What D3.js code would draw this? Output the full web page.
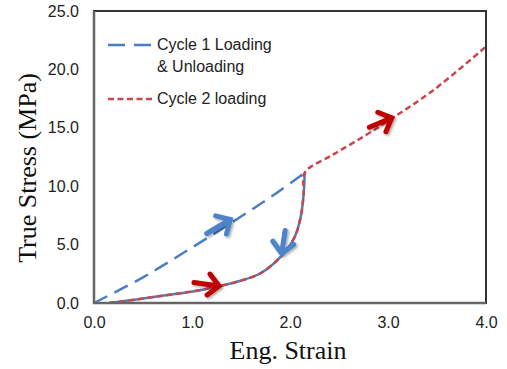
<!DOCTYPE html>
<html>
<head>
<meta charset="utf-8">
<script src="https://cdn.jsdelivr.net/npm/d3@7"></script>
<style>
  html, body { margin: 0; padding: 0; background: #fff; }
  svg { display: block; }
</style>
</head>
<body>
<svg id="chart" width="507" height="369"></svg>
<script>
// ---- data ----
const xTicks = [0, 1, 2, 3, 4];
const yTicks = [0, 5, 10, 15, 20, 25];
const xLabel = "Eng. Strain";
const yLabel = "True Stress (MPa)";

// Cycle 1 loading (strain, stress)
const cycle1Loading = [[0,0],[0.5,2.2],[1.0,4.75],[1.5,7.4],[1.86,9.4],[2.15,11.15]];
// Cycle 1 unloading
const cycle1Unloading = [[2.15,11.15],[2.14,9.4],[2.11,7.4],[2.05,5.7],[1.92,4.1],[1.70,2.55],[1.45,1.8],[1.28,1.45],[1.08,1.1],[0.64,0.55],[0.30,0.15],[0.16,0.02]];
// Cycle 2 loading
const cycle2Loading = [[0.16,0.02],[0.30,0.15],[0.64,0.55],[1.08,1.1],[1.28,1.45],[1.45,1.8],[1.70,2.55],[1.92,4.1],[2.05,5.7],[2.11,7.4],[2.14,9.4],[2.15,11.15],[2.44,12.7],[2.78,14.4],[3.04,15.8],[3.46,18.2],[4.0,21.95]];

const seriesNames = ["Cycle 1 Loading", "& Unloading", "Cycle 2 loading"];

// direction arrows: tail -> tip in data units
const arrowTails = [[1.15,5.95],[1.95,6.2],[1.02,1.75],[2.81,15.05]];
const arrowTips  = [[1.39,7.15],[1.915,4.25],[1.276,1.46],[3.038,15.85]];
const arrowKinds = ["blue","blue","red","red"];

// ---- layout ----
const svg = d3.select("#chart");
const M = {left: 94, top: 11, w: 392, h: 292};
const x = d3.scaleLinear().domain([0, 4]).range([M.left, M.left + M.w]);
const y = d3.scaleLinear().domain([0, 25]).range([M.top + M.h, M.top]);

const BLUE = "#4a7ec4", RED = "#c9474a";
const ABLUE = "#4d83c8", ARED = "#c00000";

const defs = svg.append("defs");
const f = defs.append("filter").attr("id","sh").attr("x","-50%").attr("y","-50%").attr("width","200%").attr("height","200%");
f.append("feDropShadow").attr("dx",1.5).attr("dy",1.5).attr("stdDeviation",1.2).attr("flood-color","#000").attr("flood-opacity",0.35);

// axes
const tickFont = "'Liberation Sans', Arial, sans-serif";
const xAxis = svg.append("g").attr("transform", `translate(0,${M.top + M.h})`)
  .call(d3.axisBottom(x).tickValues(xTicks).tickSize(0).tickPadding(14).tickFormat(d3.format(".1f")));
const yAxis = svg.append("g").attr("transform", `translate(${M.left},0)`)
  .call(d3.axisLeft(y).tickValues(yTicks).tickSize(0).tickPadding(15).tickFormat(d3.format(".1f")));
[xAxis, yAxis].forEach(g => {
  g.select(".domain").remove();
  g.selectAll("text").attr("font-family", tickFont).attr("font-size", 16).attr("fill", "#222");
});

// titles
svg.append("text").attr("x", 288).attr("y", 359)
  .attr("text-anchor","middle").attr("font-family","'Liberation Serif','Times New Roman',serif")
  .attr("font-size", 26).attr("fill","#111").text(xLabel);
svg.append("text").attr("transform","translate(36,168) rotate(-90)")
  .attr("text-anchor","middle").attr("font-family","'Liberation Serif','Times New Roman',serif")
  .attr("font-size", 26).attr("fill","#111").text(yLabel);

// lines
const line = d3.line().x(d => x(d[0])).y(d => y(d[1])).curve(d3.curveCatmullRom.alpha(0.5));
const plot = svg.append("g");
plot.append("path").datum(cycle1Loading).attr("d", line)
  .attr("fill","none").attr("stroke",BLUE).attr("stroke-width",2.5).attr("stroke-dasharray","15,8");
plot.append("path").datum(cycle1Unloading).attr("d", line)
  .attr("fill","none").attr("stroke",BLUE).attr("stroke-width",2.5);
plot.append("path").datum(cycle2Loading).attr("d", line)
  .attr("fill","none").attr("stroke",RED).attr("stroke-width",2.5).attr("stroke-dasharray","6,3.5");

// arrows
arrowTips.forEach((tip, i) => {
  const tail = arrowTails[i];
  const tx = x(tip[0]), ty = y(tip[1]);
  const sx = x(tail[0]), sy = y(tail[1]);
  const ang = Math.atan2(ty - sy, tx - sx);
  const armLen = 15, spread = 0.78;
  const a1 = [tx - armLen*Math.cos(ang - spread), ty - armLen*Math.sin(ang - spread)];
  const a2 = [tx - armLen*Math.cos(ang + spread), ty - armLen*Math.sin(ang + spread)];
  const col = arrowKinds[i] === "blue" ? ABLUE : ARED;
  const g = svg.append("g").attr("filter","url(#sh)");
  g.append("path").attr("d", `M${sx},${sy}L${tx},${ty}M${a1[0]},${a1[1]}L${tx},${ty}L${a2[0]},${a2[1]}`)
    .attr("fill","none").attr("stroke",col).attr("stroke-width",5)
    .attr("stroke-linejoin","miter").attr("stroke-linecap","round");
});

// frame
svg.append("rect").attr("x", M.left).attr("y", M.top).attr("width", M.w).attr("height", M.h)
  .attr("fill","none").attr("stroke","#333").attr("stroke-width",2);
svg.append("path").attr("d", `M${M.left},${M.top}V${M.top+M.h}H${M.left+M.w}`)
  .attr("fill","none").attr("stroke","#666").attr("stroke-width",2.5);

// legend
const lg = svg.append("g");
lg.append("line").attr("x1",108).attr("x2",153).attr("y1",45).attr("y2",45)
  .attr("stroke",BLUE).attr("stroke-width",2.5).attr("stroke-dasharray","17,9");
lg.append("line").attr("x1",108).attr("x2",153).attr("y1",99).attr("y2",99)
  .attr("stroke",RED).attr("stroke-width",2.5).attr("stroke-dasharray","6,3.5");
const lf = (t, yy) => lg.append("text").attr("x",157).attr("y",yy)
  .attr("font-family",tickFont).attr("font-size",16).attr("fill","#222").text(t);
lf(seriesNames[0], 50);
lf(seriesNames[1], 72);
lf(seriesNames[2], 104);
</script>
</body>
</html>
